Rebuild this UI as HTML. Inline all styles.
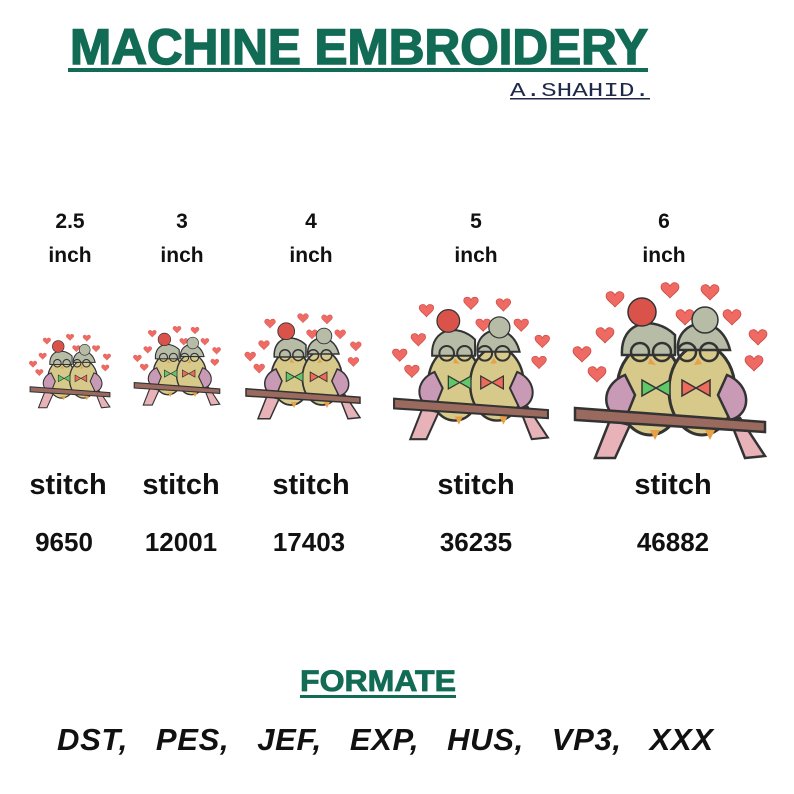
<!DOCTYPE html>
<html><head><meta charset="utf-8"><style>
html,body{margin:0;padding:0;background:#fff;}
svg{display:block;}
</style></head><body>
<svg width="794" height="794" viewBox="0 0 794 794" xmlns="http://www.w3.org/2000/svg">
<defs>
<path id="h" d="M0,3 C-2,-2 -9,-1 -9,4 C-9,8 -3,11 0,15 C3,11 9,8 9,4 C9,-1 2,-2 0,3Z" fill="#ef6a62" stroke="#c94a45" stroke-width="0.8"/>
<g id="bird">
  <use href="#h" x="45" y="12"/><use href="#h" x="100" y="3"/><use href="#h" x="140" y="5"/>
  <use href="#h" x="115" y="30"/><use href="#h" x="162" y="30"/><use href="#h" x="35" y="48"/>
  <use href="#h" x="12" y="67"/><use href="#h" x="188" y="50"/><use href="#h" x="27" y="87"/><use href="#h" x="184" y="76"/>
  <path d="M40,140 L25,178 L45,178 L60,145Z" fill="#e8b3b8" stroke="#333" stroke-width="2.5"/>
  <path d="M160,140 L175,178 L195,176 L170,138Z" fill="#e8b3b8" stroke="#333" stroke-width="2.5"/>
  <ellipse cx="80" cy="110" rx="33" ry="45" fill="#d6c98a" stroke="#333" stroke-width="3"/>
  <ellipse cx="132" cy="110" rx="33" ry="45" fill="#d6c98a" stroke="#333" stroke-width="3"/>
  <path d="M52,75 C50,40 85,35 105,55 L105,75Z" fill="#b7bca7" stroke="#333" stroke-width="2.5"/>
  <circle cx="72" cy="32" r="14" fill="#d9534a" stroke="#333" stroke-width="1.5"/>
  <path d="M108,70 C105,40 150,30 160,70Z" fill="#b7bca7" stroke="#333" stroke-width="2.5"/>
  <circle cx="135" cy="40" r="13" fill="#b7bca7" stroke="#333" stroke-width="1.5"/>
  <circle cx="70" cy="72" r="9" fill="none" stroke="#333" stroke-width="2.5"/><circle cx="92" cy="72" r="9" fill="none" stroke="#333" stroke-width="2.5"/>
  <circle cx="117" cy="72" r="9" fill="none" stroke="#333" stroke-width="2.5"/><circle cx="139" cy="72" r="9" fill="none" stroke="#333" stroke-width="2.5"/>
  <path d="M80,78 L86,85 L78,84Z" fill="#e7a045"/><path d="M128,78 L124,85 L132,84Z" fill="#e7a045"/>
  <path d="M72,100 L86,108 L72,116Z M100,100 L86,108 L100,116Z" fill="#5fc96a" stroke="#333" stroke-width="1.5"/>
  <path d="M112,100 L126,108 L112,116Z M140,100 L126,108 L140,116Z" fill="#ef6a5a" stroke="#333" stroke-width="1.5"/>
  <path d="M55,95 C30,105 30,135 55,140 L65,115Z" fill="#c99ab6" stroke="#333" stroke-width="2.5"/>
  <path d="M157,95 C182,105 182,135 160,140 L148,115Z" fill="#c99ab6" stroke="#333" stroke-width="2.5"/>
  <path d="M5,128 L195,142 L195,152 L5,140Z" fill="#9a6a5e" stroke="#333" stroke-width="2.5"/>
  <path d="M80,150 l5,10 l5,-10Z M135,150 l5,10 l5,-10Z" fill="#e7a045"/>
</g>
</defs>
<text x="70" y="64" font-family="Liberation Sans, sans-serif" font-weight="bold" font-size="50" fill="#116b55" stroke="#116b55" stroke-width="1.5" textLength="578" lengthAdjust="spacingAndGlyphs">MACHINE EMBROIDERY</text>
<rect x="68" y="68" width="580" height="4" fill="#116b55"/>
<text x="510" y="96" font-family="Liberation Mono, monospace" font-size="19" fill="#1f2a4a" textLength="140" lengthAdjust="spacingAndGlyphs">A.SHAHID.</text>
<rect x="510" y="98" width="140" height="1.5" fill="#1f2a4a"/>
<g font-family="Liberation Sans, sans-serif" font-weight="bold" fill="#111" text-anchor="middle">
<g font-size="21">
<text x="70" y="228">2.5</text><text x="70" y="262">inch</text>
<text x="182" y="228">3</text><text x="182" y="262">inch</text>
<text x="311" y="228">4</text><text x="311" y="262">inch</text>
<text x="476" y="228">5</text><text x="476" y="262">inch</text>
<text x="664" y="228">6</text><text x="664" y="262">inch</text>
</g>
<g font-size="29">
<text x="68" y="494">stitch</text><text x="181" y="494">stitch</text><text x="311" y="494">stitch</text><text x="476" y="494">stitch</text><text x="673" y="494">stitch</text>
</g>
<g font-size="26">
<text x="64" y="551">9650</text><text x="181" y="551">12001</text><text x="309" y="551">17403</text><text x="476" y="551">36235</text><text x="673" y="551">46882</text>
</g>
</g>
<use href="#bird" transform="translate(28,333) scale(0.42)"/>
<use href="#bird" transform="translate(132,325) scale(0.45)"/>
<use href="#bird" transform="translate(243,312) scale(0.6)"/>
<use href="#bird" transform="translate(390,295) scale(0.81)"/>
<use href="#bird" transform="translate(570,280) scale(1)"/>
<text x="378" y="691" text-anchor="middle" font-family="Liberation Sans, sans-serif" font-weight="bold" font-size="30" fill="#116b55" stroke="#116b55" stroke-width="0.8" textLength="156" lengthAdjust="spacingAndGlyphs">FORMATE</text>
<rect x="300" y="695" width="156" height="3" fill="#116b55"/>
<text x="57" y="750" font-family="Liberation Sans, sans-serif" font-weight="bold" font-style="italic" font-size="31" fill="#111" textLength="656" lengthAdjust="spacing" xml:space="preserve">DST,   PES,   JEF,   EXP,   HUS,   VP3,   XXX</text>
</svg>
</body></html>
